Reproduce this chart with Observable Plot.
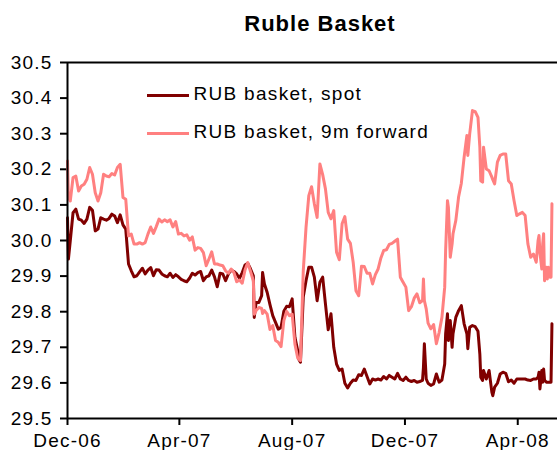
<!DOCTYPE html>
<html><head><meta charset="utf-8">
<script src="https://cdn.jsdelivr.net/npm/d3@7"></script>
<script src="https://cdn.jsdelivr.net/npm/@observablehq/plot@0.6"></script>
<style>
html,body{margin:0;padding:0;background:#fff;overflow:hidden;}
#wrap{position:relative;width:557px;height:450px;font-family:"Liberation Sans",Arial,sans-serif;color:#000;}
#title{position:absolute;left:200px;width:240px;top:13px;text-align:center;font-weight:bold;font-size:22px;line-height:22px;letter-spacing:1px;white-space:nowrap;}
#chart{position:absolute;left:0;top:44px;}
.lgsw{position:absolute;left:147px;width:42px;height:3px;}
.lgtx{position:absolute;left:193.5px;font-size:19px;line-height:19px;letter-spacing:1.3px;white-space:nowrap;}
</style></head><body>
<div id="wrap">
<div id="title">Ruble Basket</div>
<div id="chart"></div>
<div id="legend"></div>
</div>
<script>
const dates = [
"2006-12-01","2006-12-02","2006-12-04","2006-12-07","2006-12-10","2006-12-13","2006-12-16","2006-12-19","2006-12-22","2006-12-25","2006-12-28","2006-12-31",
"2007-01-03","2007-01-06","2007-01-09","2007-01-12","2007-01-15","2007-01-18","2007-01-21","2007-01-24","2007-01-27","2007-01-30",
"2007-02-02","2007-02-05","2007-02-08","2007-02-11","2007-02-14","2007-02-17","2007-02-20","2007-02-23","2007-02-26",
"2007-03-01","2007-03-04","2007-03-07","2007-03-10","2007-03-13","2007-03-16","2007-03-19","2007-03-22","2007-03-25","2007-03-28","2007-03-31",
"2007-04-03","2007-04-06","2007-04-09","2007-04-12","2007-04-15","2007-04-18","2007-04-21","2007-04-24","2007-04-27","2007-04-30",
"2007-05-03","2007-05-06","2007-05-09","2007-05-12","2007-05-15","2007-05-18","2007-05-21","2007-05-24","2007-05-27","2007-05-30",
"2007-06-02","2007-06-05","2007-06-08","2007-06-11","2007-06-14","2007-06-17","2007-06-20","2007-06-21","2007-06-23","2007-06-26","2007-06-29","2007-06-30",
"2007-07-02","2007-07-05","2007-07-08","2007-07-11","2007-07-14","2007-07-17","2007-07-20","2007-07-23","2007-07-26","2007-07-29",
"2007-08-01","2007-08-04","2007-08-07","2007-08-08","2007-08-10","2007-08-13","2007-08-16","2007-08-19","2007-08-22","2007-08-25","2007-08-28","2007-08-31",
"2007-09-03","2007-09-06","2007-09-09","2007-09-12","2007-09-15","2007-09-18","2007-09-21","2007-09-24","2007-09-27","2007-09-30",
"2007-10-03","2007-10-06","2007-10-09","2007-10-12","2007-10-15","2007-10-18","2007-10-21","2007-10-24","2007-10-27","2007-10-30",
"2007-11-02","2007-11-05","2007-11-08","2007-11-11","2007-11-14","2007-11-17","2007-11-20","2007-11-23","2007-11-26","2007-11-29",
"2007-12-02","2007-12-05","2007-12-08","2007-12-11","2007-12-14","2007-12-17","2007-12-20","2007-12-21","2007-12-22","2007-12-24","2007-12-26","2007-12-29",
"2008-01-01","2008-01-04","2008-01-07","2008-01-10","2008-01-13","2008-01-14","2008-01-16","2008-01-17","2008-01-19","2008-01-21","2008-01-22","2008-01-25","2008-01-28","2008-01-31",
"2008-02-03","2008-02-06","2008-02-07","2008-02-09","2008-02-12","2008-02-15","2008-02-18","2008-02-20","2008-02-21","2008-02-23","2008-02-24","2008-02-27",
"2008-03-01","2008-03-04","2008-03-05","2008-03-07","2008-03-10","2008-03-13","2008-03-16","2008-03-19","2008-03-22","2008-03-25","2008-03-28","2008-03-31",
"2008-04-03","2008-04-06","2008-04-09","2008-04-12","2008-04-15","2008-04-18","2008-04-21","2008-04-23","2008-04-24","2008-04-25","2008-04-27","2008-04-28","2008-04-29","2008-04-30",
"2008-05-02","2008-05-03","2008-05-04","2008-05-06","2008-05-07","2008-05-08"
];
const spot = [
30.064,29.948,29.999,30.078,30.088,30.060,30.057,30.048,30.060,30.093,30.085,30.027,
30.032,30.064,30.060,30.057,30.062,30.074,30.069,30.050,30.072,30.044,
30.032,29.934,29.915,29.898,29.901,29.912,29.922,29.906,29.917,
29.924,29.901,29.918,29.917,29.906,29.901,29.898,29.908,29.896,29.904,29.898,
29.891,29.887,29.884,29.894,29.908,29.903,29.910,29.913,29.887,29.898,
29.901,29.917,29.898,29.870,29.908,29.906,29.887,29.906,29.917,29.913,
29.906,29.894,29.910,29.931,29.936,29.920,29.901,29.784,29.826,29.826,29.845,29.910,
29.878,29.854,29.820,29.789,29.770,29.751,29.756,29.801,29.815,29.814,
29.836,29.728,29.691,29.667,29.658,29.841,29.887,29.925,29.925,29.897,29.831,29.883,
29.897,29.822,29.749,29.794,29.700,29.653,29.635,29.639,29.599,29.586,
29.599,29.608,29.607,29.623,29.621,29.639,29.618,29.597,29.611,29.608,
29.611,29.608,29.618,29.611,29.621,29.616,29.611,29.627,29.611,29.607,
29.616,29.607,29.604,29.607,29.602,29.604,29.607,29.644,29.710,29.611,29.599,29.593,
29.597,29.625,29.602,29.608,29.653,29.738,29.794,29.719,29.775,29.700,29.738,29.784,29.803,29.817,
29.766,29.738,29.696,29.756,29.761,29.758,29.745,29.681,29.616,29.607,29.635,29.611,
29.635,29.574,29.564,29.588,29.599,29.625,29.630,29.627,29.603,29.608,29.599,29.611,
29.611,29.611,29.611,29.608,29.607,29.611,29.611,29.616,29.630,29.583,29.635,29.602,29.639,29.607,
29.602,29.602,29.602,29.602,29.602,29.766
];
const forward = [
30.223,30.121,30.111,30.177,30.181,30.139,30.153,30.158,30.172,30.205,30.186,30.134,
30.111,30.134,30.186,30.181,30.179,30.188,30.184,30.205,30.214,30.121,
30.116,30.013,30.018,29.990,29.990,29.994,29.990,29.994,30.018,
30.038,30.020,30.039,30.060,30.052,30.058,30.053,30.058,30.038,30.053,30.018,
30.020,30.013,30.016,30.001,30.010,29.973,29.980,29.978,29.966,29.929,
29.948,29.968,29.934,29.934,29.931,29.929,29.915,29.908,29.920,29.910,
29.884,29.889,29.880,29.917,29.938,29.913,29.887,29.793,29.803,29.812,29.809,29.795,
29.803,29.793,29.750,29.761,29.719,29.714,29.702,29.775,29.801,29.789,
29.793,29.709,29.670,29.667,29.663,29.914,30.037,30.126,30.151,30.103,30.065,30.215,
30.185,30.145,30.079,30.061,30.084,29.967,29.946,30.047,30.067,30.004,
29.992,29.939,29.859,29.845,29.928,29.927,29.908,29.908,29.878,29.904,
29.920,29.951,29.972,29.974,29.989,29.992,29.998,30.004,29.897,29.883,
29.869,29.803,29.814,29.838,29.850,29.825,29.831,29.892,29.831,29.808,29.768,29.752,
29.764,29.710,29.742,29.784,29.869,29.972,30.112,30.093,29.953,29.990,30.019,30.056,30.122,30.161,
30.234,30.295,30.239,30.299,30.365,30.362,30.346,30.262,30.168,30.164,30.262,30.201,
30.196,30.178,30.171,30.159,30.220,30.239,30.243,30.243,30.168,30.159,30.112,30.070,
30.075,30.079,30.070,29.990,29.953,29.962,29.939,30.000,30.014,29.967,29.920,29.990,30.019,29.887,
29.925,29.892,29.925,29.897,29.897,30.103
];
const seriesNames = ["RUB basket, spot", "RUB basket, 9m forward"];
const yTicks = [29.5, 29.6, 29.7, 29.8, 29.9, 30.0, 30.1, 30.2, 30.3, 30.4, 30.5];
const xTicks = ["2006-12-01", "2007-04-01", "2007-08-01", "2007-12-01", "2008-04-01"];
const xDomain = ["2006-12-01", "2008-05-14"];

const colors = ["#800000", "#ff8080"];
const parse = d3.utcParse("%Y-%m-%d");
const spotRows = dates.map((d, i) => ({date: parse(d), value: spot[i]}));
const fwdRows = dates.map((d, i) => ({date: parse(d), value: forward[i]}));

const chart = Plot.plot({
  width: 557,
  height: 406,
  marginTop: 18,
  marginBottom: 32,
  marginLeft: 67,
  marginRight: 0,
  style: {fontFamily: '"Liberation Sans", Arial, sans-serif', fontSize: "19px", letterSpacing: "1.2px", color: "#000", background: "#fff", overflow: "visible"},
  x: {type: "utc", domain: xDomain.map(parse)},
  y: {domain: [yTicks[0], yTicks[yTicks.length - 1]]},
  marks: [
    Plot.axisY({ticks: yTicks, tickFormat: d3.format(".1f"), tickSize: 7, tickPadding: 8, strokeWidth: 2, label: null}),
    Plot.axisX({ticks: xTicks.map(parse), tickFormat: d3.utcFormat("%b-%y"), tickSize: 7, tickPadding: 8, strokeWidth: 2, label: null}),
    Plot.line(spotRows, {x: "date", y: "value", stroke: colors[0], strokeWidth: 3, strokeLinejoin: "round"}),
    Plot.line(fwdRows, {x: "date", y: "value", stroke: colors[1], strokeWidth: 3, strokeLinejoin: "round"}),
    Plot.ruleY([yTicks[0], yTicks[yTicks.length - 1]], {stroke: "#000", strokeWidth: 2}),
    Plot.ruleX([parse(xDomain[0])], {stroke: "#000", strokeWidth: 2})
  ]
});
document.getElementById("chart").appendChild(chart);

const legend = document.getElementById("legend");
const swTops = [94.2, 131.8];
const txTops = [84, 121.6];
seriesNames.forEach((name, i) => {
  const sw = document.createElement("div");
  sw.className = "lgsw";
  sw.style.top = swTops[i] + "px";
  sw.style.background = colors[i];
  legend.appendChild(sw);
  const tx = document.createElement("div");
  tx.className = "lgtx";
  tx.style.top = txTops[i] + "px";
  tx.textContent = name;
  legend.appendChild(tx);
});
</script>
</body></html>
